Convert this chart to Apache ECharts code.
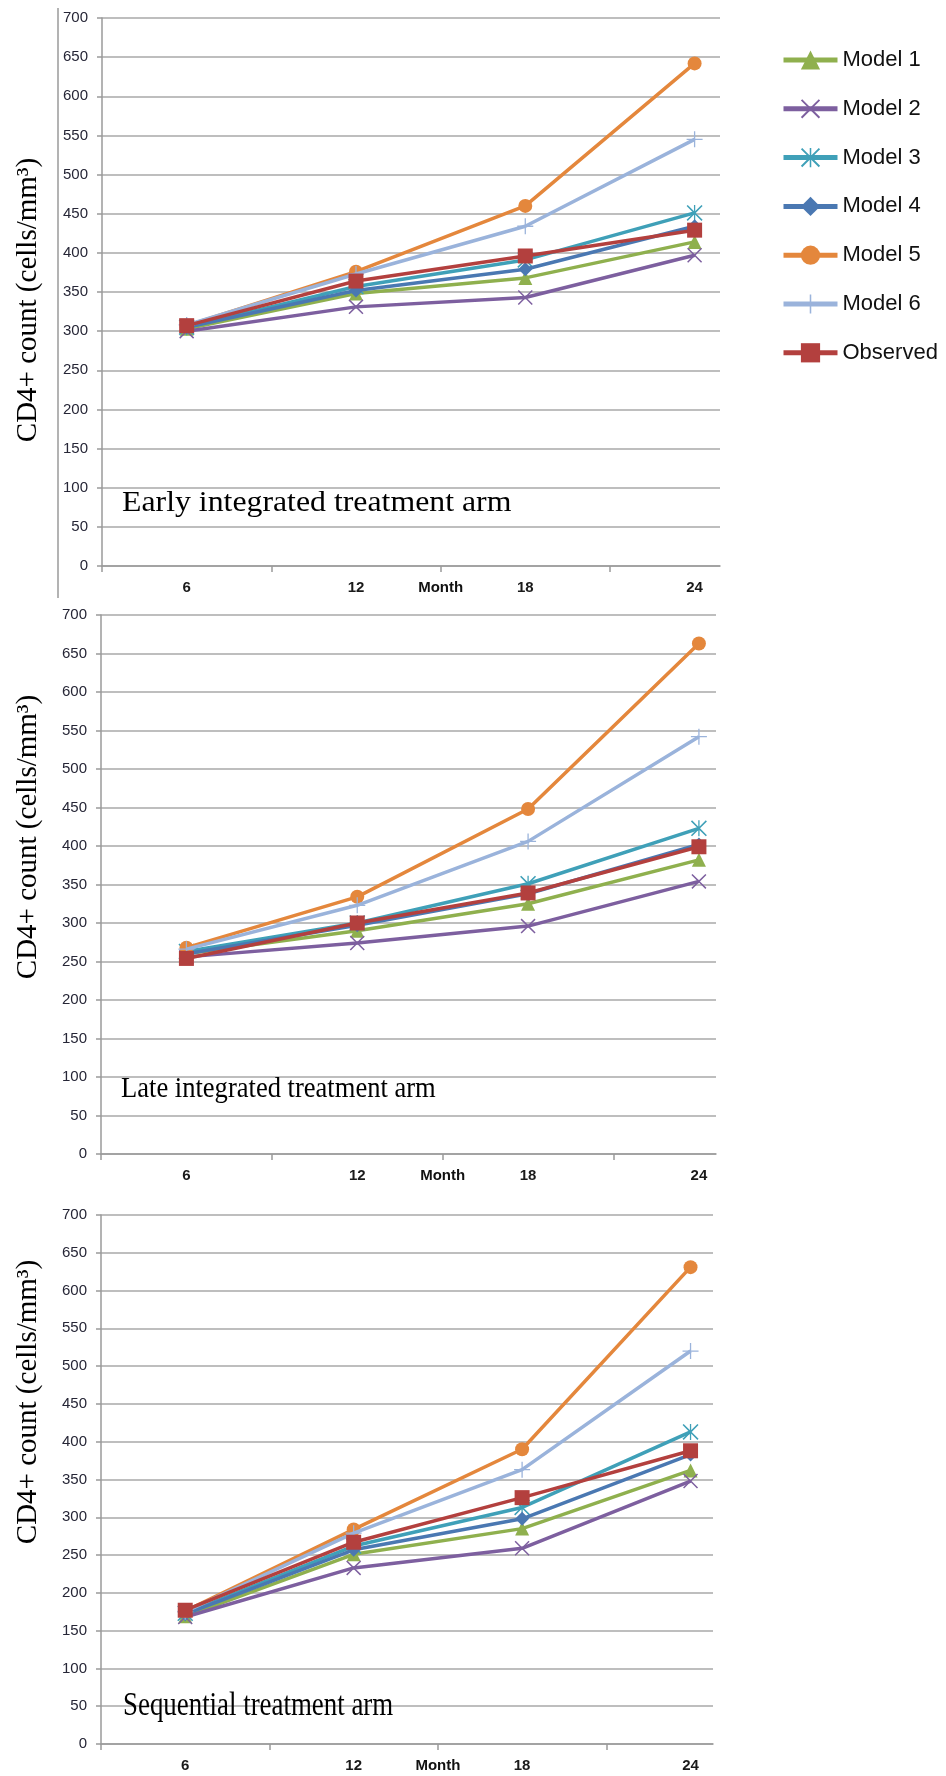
<!DOCTYPE html>
<html>
<head>
<meta charset="utf-8">
<script src="https://cdn.jsdelivr.net/npm/echarts@6/dist/echarts.min.js"></script>
<style>
html,body{margin:0;padding:0;background:#fff;}
#chart{width:946px;height:1776px;}
</style>
</head>
<body>
<div id="chart"></div>
<script>
// ---- data ----
const months = [6, 12, 18, 24];
const monthLabels = ['6', '12', '18', '24'];
const xTitle = 'Month';
const yTicks = [0, 50, 100, 150, 200, 250, 300, 350, 400, 450, 500, 550, 600, 650, 700];
const seriesNames = ['Model 1', 'Model 2', 'Model 3', 'Model 4', 'Model 5', 'Model 6', 'Observed'];
const armTitles = ['Early integrated treatment arm', 'Late integrated treatment arm', 'Sequential treatment arm'];
const yTitle = 'CD4+ count (cells/mm³)';

const earlyModel1 = [303, 348, 368, 414];
const earlyModel2 = [300, 331, 343, 397];
const earlyModel3 = [305, 357, 391, 451];
const earlyModel4 = [305, 352, 379, 434];
const earlyModel5 = [307, 376, 460, 642];
const earlyModel6 = [308, 373, 434, 545];
const earlyObserved = [307, 364, 396, 429];

const lateModel1 = [260, 290, 325, 382];
const lateModel2 = [256, 274, 296, 354];
const lateModel3 = [263, 300, 351, 423];
const lateModel4 = [260, 297, 338, 402];
const lateModel5 = [268, 334, 448, 663];
const lateModel6 = [266, 323, 406, 542];
const lateObserved = [254, 300, 339, 399];

const seqModel1 = [169, 251, 285, 362];
const seqModel2 = [168, 233, 259, 348];
const seqModel3 = [173, 262, 313, 413];
const seqModel4 = [172, 257, 298, 383];
const seqModel5 = [176, 284, 390, 631];
const seqModel6 = [175, 279, 363, 520];
const seqObserved = [177, 267, 326, 388];

const arms = [
  [earlyModel1, earlyModel2, earlyModel3, earlyModel4, earlyModel5, earlyModel6, earlyObserved],
  [lateModel1, lateModel2, lateModel3, lateModel4, lateModel5, lateModel6, lateObserved],
  [seqModel1, seqModel2, seqModel3, seqModel4, seqModel5, seqModel6, seqObserved]
];

// ---- styles ----
const colors = ['#8FB04E', '#7D5F9F', '#3FA0B8', '#4A78B2', '#E4873C', '#9AB3DB', '#B3403E'];
const xPath = 'path://M0,7 L7,0 L50,43 L93,0 L100,7 L57,50 L100,93 L93,100 L50,57 L7,100 L0,93 L43,50 Z';
const starPath = 'path://M0,7 L7,0 L50,43 L93,0 L100,7 L57,50 L100,93 L93,100 L50,57 L7,100 L0,93 L43,50 Z M46,0 L54,0 L54,100 L46,100 Z';
const plusPath = 'path://M46,0 L54,0 L54,46 L100,46 L100,54 L54,54 L54,100 L46,100 L46,54 L0,54 L0,46 L46,46 Z';
const symbols = ['triangle', xPath, starPath, 'diamond', 'circle', plusPath, 'rect'];
const symbolSizes = [14, 15, 16, 14, 14, 16, 15];

const grids = [
  {left: 102, top: 18, width: 618, height: 548, xmax: 24.9},
  {left: 101, top: 615, width: 615, height: 539, xmax: 24.6},
  {left: 101, top: 1215, width: 612, height: 529, xmax: 24.8}
];
const armTitlePos = [
  {x: 122, y: 503, size: 30, sx: 1.06, sy: 1.0},
  {x: 121, y: 1089, size: 30, sx: 0.885, sy: 1.0},
  {x: 123, y: 1706, size: 32, sx: 0.84, sy: 1.06}
];
const yTitlePos = [{x: 28, y: 300}, {x: 28, y: 837}, {x: 28, y: 1402}];

const gridLineColor = '#a8a8a8';
const labelFont = 'Liberation Sans';

const option = {
  animation: false,
  backgroundColor: '#fff',
  grid: grids.map(g => ({left: g.left, top: g.top, width: g.width, height: g.height, containLabel: false, outerBoundsMode: 'none'})),
  xAxis: grids.map((g, i) => ({
    type: 'value', gridIndex: i, min: 3, max: g.xmax,
    splitLine: {show: false},
    axisLine: {show: true, lineStyle: {color: '#9a9a9a', width: 1.5}},
    axisTick: {show: true, customValues: [3, 9, 15, 21], length: 6, lineStyle: {color: '#9a9a9a', width: 1.5}},
    axisLabel: {
      show: true, customValues: months.concat([15]), margin: 14,
      fontFamily: labelFont, fontSize: 15, fontWeight: 'bold', color: '#1a1a1a',
      formatter: function (v) {
        if (v === 15) return '{m|' + xTitle + '}';
        const k = months.indexOf(v);
        return k >= 0 ? monthLabels[k] : '';
      },
      rich: {m: {fontFamily: labelFont, fontSize: 15, fontWeight: 'bold', color: '#111'}}
    }
  })),
  yAxis: grids.map((g, i) => ({
    type: 'value', gridIndex: i, min: yTicks[0], max: yTicks[yTicks.length - 1], interval: 50,
    splitLine: {show: true, lineStyle: {color: gridLineColor, width: 1.5}},
    axisLine: {show: true, lineStyle: {color: '#9a9a9a', width: 1.5}},
    axisTick: {show: true, length: 5, lineStyle: {color: '#9a9a9a', width: 1.5}},
    axisLabel: {margin: 14, fontFamily: labelFont, fontSize: 15, color: '#262636'}
  })),
  legend: {
    show: true, orient: 'vertical', left: 776, top: 44,
    itemWidth: 54, itemHeight: 24, itemGap: 26.8,
    selectedMode: false,
    data: seriesNames,
    lineStyle: {width: 5},
    textStyle: {fontFamily: labelFont, fontSize: 22, color: '#111'}
  },
  series: [],
  graphic: []
};

arms.forEach((armVals, i) => {
  armVals.forEach((vals, j) => {
    option.series.push({
      type: 'line', name: seriesNames[j], xAxisIndex: i, yAxisIndex: i,
      data: months.map((m, k) => [m, vals[k]]),
      symbol: symbols[j], symbolSize: symbolSizes[j],
      itemStyle: {color: colors[j]},
      lineStyle: {color: colors[j], width: 3.5},
      emphasis: {disabled: true},
      z: 2 + j
    });
  });
});

// left frame line (as in reference)
option.graphic.push({
  type: 'line', shape: {x1: 58, y1: 8, x2: 58, y2: 598},
  style: {stroke: '#9a9a9a', lineWidth: 1.5}, silent: true
});

armTitles.forEach((t, i) => {
  const p = armTitlePos[i];
  option.graphic.push({
    type: 'text', x: p.x, y: p.y, scaleX: p.sx, scaleY: p.sy, silent: true, z: 100,
    style: {text: t, fontFamily: 'Liberation Serif', fontSize: p.size, fill: '#000',
            textAlign: 'left', textVerticalAlign: 'middle'}
  });
  const q = yTitlePos[i];
  option.graphic.push({
    type: 'text', x: q.x, y: q.y, rotation: Math.PI / 2, silent: true, z: 100,
    style: {text: yTitle, fontFamily: 'Liberation Serif', fontSize: 29, fill: '#000',
            textAlign: 'center', textVerticalAlign: 'middle'}
  });
});

const chart = echarts.init(document.getElementById('chart'), null, {renderer: 'canvas'});
chart.setOption(option);
</script>
</body>
</html>
